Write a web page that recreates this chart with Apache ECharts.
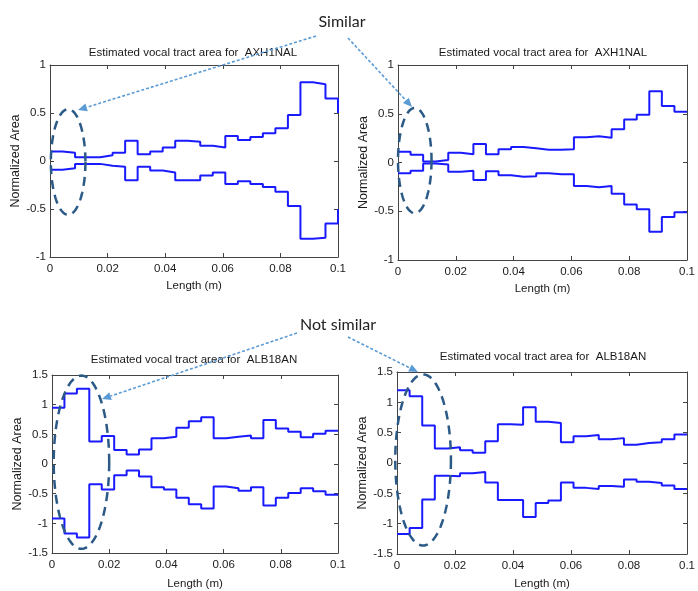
<!DOCTYPE html>
<html><head><meta charset="utf-8">
<script src="https://cdn.jsdelivr.net/npm/echarts@6/dist/echarts.min.js"></script>
<style>html,body{margin:0;padding:0;background:#fff}#c{width:698px;height:591px}</style>
</head><body><div id="c"></div><script>
// Section boundaries along the tract (m)
const edges = [0, 0.00435, 0.0087, 0.01304, 0.01739, 0.02174, 0.02609, 0.03043, 0.03478, 0.03913, 0.04348, 0.04783, 0.05217, 0.05652, 0.06087, 0.06522, 0.06957, 0.07391, 0.07826, 0.08261, 0.08696, 0.0913, 0.09565, 0.1];

const titles = [
  'Estimated vocal tract area for  AXH1NAL',
  'Estimated vocal tract area for  AXH1NAL',
  'Estimated vocal tract area for  ALB18AN',
  'Estimated vocal tract area for  ALB18AN'
];
const xTicks = [0, 0.02, 0.04, 0.06, 0.08, 0.1];

// Panel 1 (top-left)
const p1Upper = [0.10, 0.085, 0.04, 0.04, 0.06, 0.085, 0.21, 0.07, 0.10, 0.14, 0.21, 0.20, 0.16, 0.14, 0.26, 0.22, 0.25, 0.29, 0.34, 0.48, 0.82, 0.80, 0.65, 0.50];
const p1Lower = [-0.09, -0.075, -0.03, -0.03, -0.05, -0.06, -0.20, -0.06, -0.10, -0.12, -0.20, -0.20, -0.15, -0.12, -0.24, -0.21, -0.24, -0.27, -0.32, -0.47, -0.81, -0.80, -0.65, -0.50];
// Panel 2 (top-right)
const p2Upper = [0.11, 0.08, 0.01, 0.025, 0.10, 0.085, 0.19, 0.085, 0.135, 0.16, 0.145, 0.13, 0.13, 0.135, 0.26, 0.27, 0.255, 0.34, 0.44, 0.49, 0.73, 0.58, 0.52, 0.52];
const p2Lower = [-0.11, -0.085, -0.01, -0.02, -0.095, -0.085, -0.18, -0.09, -0.13, -0.145, -0.14, -0.11, -0.12, -0.12, -0.24, -0.255, -0.24, -0.32, -0.43, -0.48, -0.71, -0.56, -0.51, -0.51];
// Panel 3 (bottom-left)
const p3Upper = [0.95, 1.19, 1.27, 0.38, 0.47, 0.235, 0.16, 0.245, 0.435, 0.46, 0.61, 0.72, 0.79, 0.435, 0.46, 0.48, 0.435, 0.74, 0.60, 0.545, 0.45, 0.51, 0.56, 0.56];
const p3Lower = [-0.92, -1.17, -1.24, -0.34, -0.43, -0.19, -0.11, -0.21, -0.39, -0.43, -0.57, -0.68, -0.75, -0.38, -0.41, -0.45, -0.39, -0.70, -0.57, -0.49, -0.41, -0.46, -0.52, -0.52];
// Panel 4 (bottom-right)
const p4Upper = [1.20, 1.10, 0.62, 0.24, 0.26, 0.21, 0.17, 0.36, 0.64, 0.63, 0.92, 0.68, 0.66, 0.34, 0.44, 0.46, 0.39, 0.41, 0.30, 0.33, 0.34, 0.39, 0.47, 0.47];
const p4Lower = [-1.17, -1.07, -0.60, -0.21, -0.22, -0.17, -0.15, -0.32, -0.61, -0.61, -0.89, -0.66, -0.62, -0.32, -0.41, -0.43, -0.38, -0.39, -0.27, -0.31, -0.33, -0.37, -0.43, -0.43];

const panels = [[p1Upper, p1Lower], [p2Upper, p2Lower], [p3Upper, p3Lower], [p4Upper, p4Lower]];
const yRanges = [[-1, 1], [-1, 1], [-1.5, 1.5], [-1.5, 1.5]];

// Annotations: ellipses in data coords [cx, cy, rx, ry]
const ellipses = [[0.0063, -0.01, 0.006, 0.55], [0.0058, 0.02, 0.0058, 0.54], [0.0103, 0.03, 0.0097, 1.46], [0.009, 0.05, 0.0096, 1.41]];

const grids = [
  {left: 50, top: 65, width: 288, height: 192},
  {left: 398, top: 65, width: 291, height: 195},
  {left: 52, top: 375, width: 286, height: 183},
  {left: 397, top: 372, width: 293, height: 190}
];
const titleCenter = [[193, 54], [543, 54], [194, 361], [543, 358]];
const yNameGap = [25, 24, 26, 26];
const xNameGap = [23, 23, 25, 24];

const FONT = 'Liberation Sans';
const axisCol = '#444';
const txtCol = '#1a1a1a';
const option = {
  animation: false,
  backgroundColor: '#fff',
  grid: grids.map(g => Object.assign({containLabel: false}, g)),
  title: titles.map((t, i) => ({
    text: t, left: titleCenter[i][0], top: titleCenter[i][1] - 7, textAlign: 'center', padding: 0,
    textStyle: {fontFamily: FONT, fontSize: 11.5, fontWeight: 'normal', color: txtCol}
  })),
  xAxis: [], yAxis: [], series: []
};
grids.forEach((g, i) => {
  option.xAxis.push({
    type: 'value', gridIndex: i, min: 0, max: 0.1, interval: 0.02, position: 'bottom',
    name: 'Length (m)', nameLocation: 'middle', nameGap: xNameGap[i],
    nameTextStyle: {fontFamily: FONT, fontSize: 11.5, color: txtCol},
    axisLine: {show: true, onZero: false, lineStyle: {color: axisCol, width: 1}},
    axisTick: {show: true, inside: true, length: 4, lineStyle: {color: axisCol}},
    axisLabel: {fontFamily: FONT, fontSize: 11.5, color: txtCol, margin: 6,
      formatter: v => String(+v.toFixed(4))},
    splitLine: {show: false}
  });
  option.xAxis.push({
    type: 'value', gridIndex: i, min: 0, max: 0.1, interval: 0.02, position: 'top',
    axisLine: {show: true, onZero: false, lineStyle: {color: axisCol, width: 1}},
    axisTick: {show: true, inside: true, length: 4, lineStyle: {color: axisCol}},
    axisLabel: {show: false}, splitLine: {show: false}
  });
  option.yAxis.push({
    type: 'value', gridIndex: i, min: yRanges[i][0], max: yRanges[i][1], interval: 0.5, position: 'left',
    name: 'Normalized Area', nameLocation: 'middle', nameGap: yNameGap[i],
    nameTextStyle: {fontFamily: FONT, fontSize: 12.5, color: txtCol},
    axisLine: {show: true, onZero: false, lineStyle: {color: axisCol, width: 1}},
    axisTick: {show: true, inside: true, length: 4, lineStyle: {color: axisCol}},
    axisLabel: {fontFamily: FONT, fontSize: 11.5, color: txtCol, margin: 4},
    splitLine: {show: false}
  });
  option.yAxis.push({
    type: 'value', gridIndex: i, min: yRanges[i][0], max: yRanges[i][1], interval: 0.5, position: 'right',
    axisLine: {show: true, onZero: false, lineStyle: {color: axisCol, width: 1}},
    axisTick: {show: true, inside: true, length: 4, lineStyle: {color: axisCol}},
    axisLabel: {show: false}, splitLine: {show: false}
  });
  panels[i].forEach(vals => {
    option.series.push({
      type: 'line', step: 'end', xAxisIndex: 2 * i, yAxisIndex: 2 * i,
      data: vals.map((v, k) => [edges[k], v]),
      showSymbol: false, symbol: 'none', clip: true,
      lineStyle: {color: '#1a1aff', width: 2}
    });
  });
});

const chart = echarts.init(document.getElementById('c'), null, {renderer: 'canvas'});
chart.setOption(option);

// ---- annotations ----
const gfx = [];
const ellColor = '#2c5a86';
ellipses.forEach((e, i) => {
  const c = chart.convertToPixel({gridIndex: i}, [e[0], e[1]]);
  const p = chart.convertToPixel({gridIndex: i}, [e[0] + e[2], e[1] + e[3]]);
  const rx = Math.abs(p[0] - c[0]), ry = Math.abs(p[1] - c[1]);
  const pts = [];
  for (let k = 0; k <= 120; k++) {
    const t = k / 120 * Math.PI * 2;
    pts.push([c[0] + rx * Math.cos(t), c[1] + ry * Math.sin(t)]);
  }
  gfx.push({type: 'polyline', z: 100, shape: {points: pts},
    style: {stroke: ellColor, lineWidth: 2.5, lineDash: [9, 6], fill: null}});
});
// arrows: [x1,y1,x2,y2] in pixels (annotation overlay)
const arrows = [[316, 36, 78, 110], [348, 38, 412, 107], [297, 333, 102, 399], [348, 337, 418, 372]];
const arrColor = '#5b9bd5';
arrows.forEach(a => {
  const [x1, y1, x2, y2] = a;
  const ang = Math.atan2(y2 - y1, x2 - x1);
  const L = 9, W = 4;
  const bx = x2 - L * Math.cos(ang), by = y2 - L * Math.sin(ang);
  gfx.push({type: 'line', z: 100, shape: {x1, y1, x2: bx, y2: by},
    style: {stroke: arrColor, lineWidth: 1.6, lineDash: [3, 2]}});
  gfx.push({type: 'polygon', z: 100, shape: {points: [[x2, y2],
    [bx + W * Math.sin(ang), by - W * Math.cos(ang)],
    [bx - W * Math.sin(ang), by + W * Math.cos(ang)]]},
    style: {fill: arrColor}});
});
gfx.push({type: 'text', z: 100, x: 342, y: 22, style: {text: 'Similar', font: '16px Lato', fill: '#222', textAlign: 'center', textVerticalAlign: 'middle'}});
gfx.push({type: 'text', z: 100, x: 338, y: 325, style: {text: 'Not similar', font: '16px Lato', fill: '#222', textAlign: 'center', textVerticalAlign: 'middle'}});
chart.setOption({graphic: gfx});
</script></body></html>
